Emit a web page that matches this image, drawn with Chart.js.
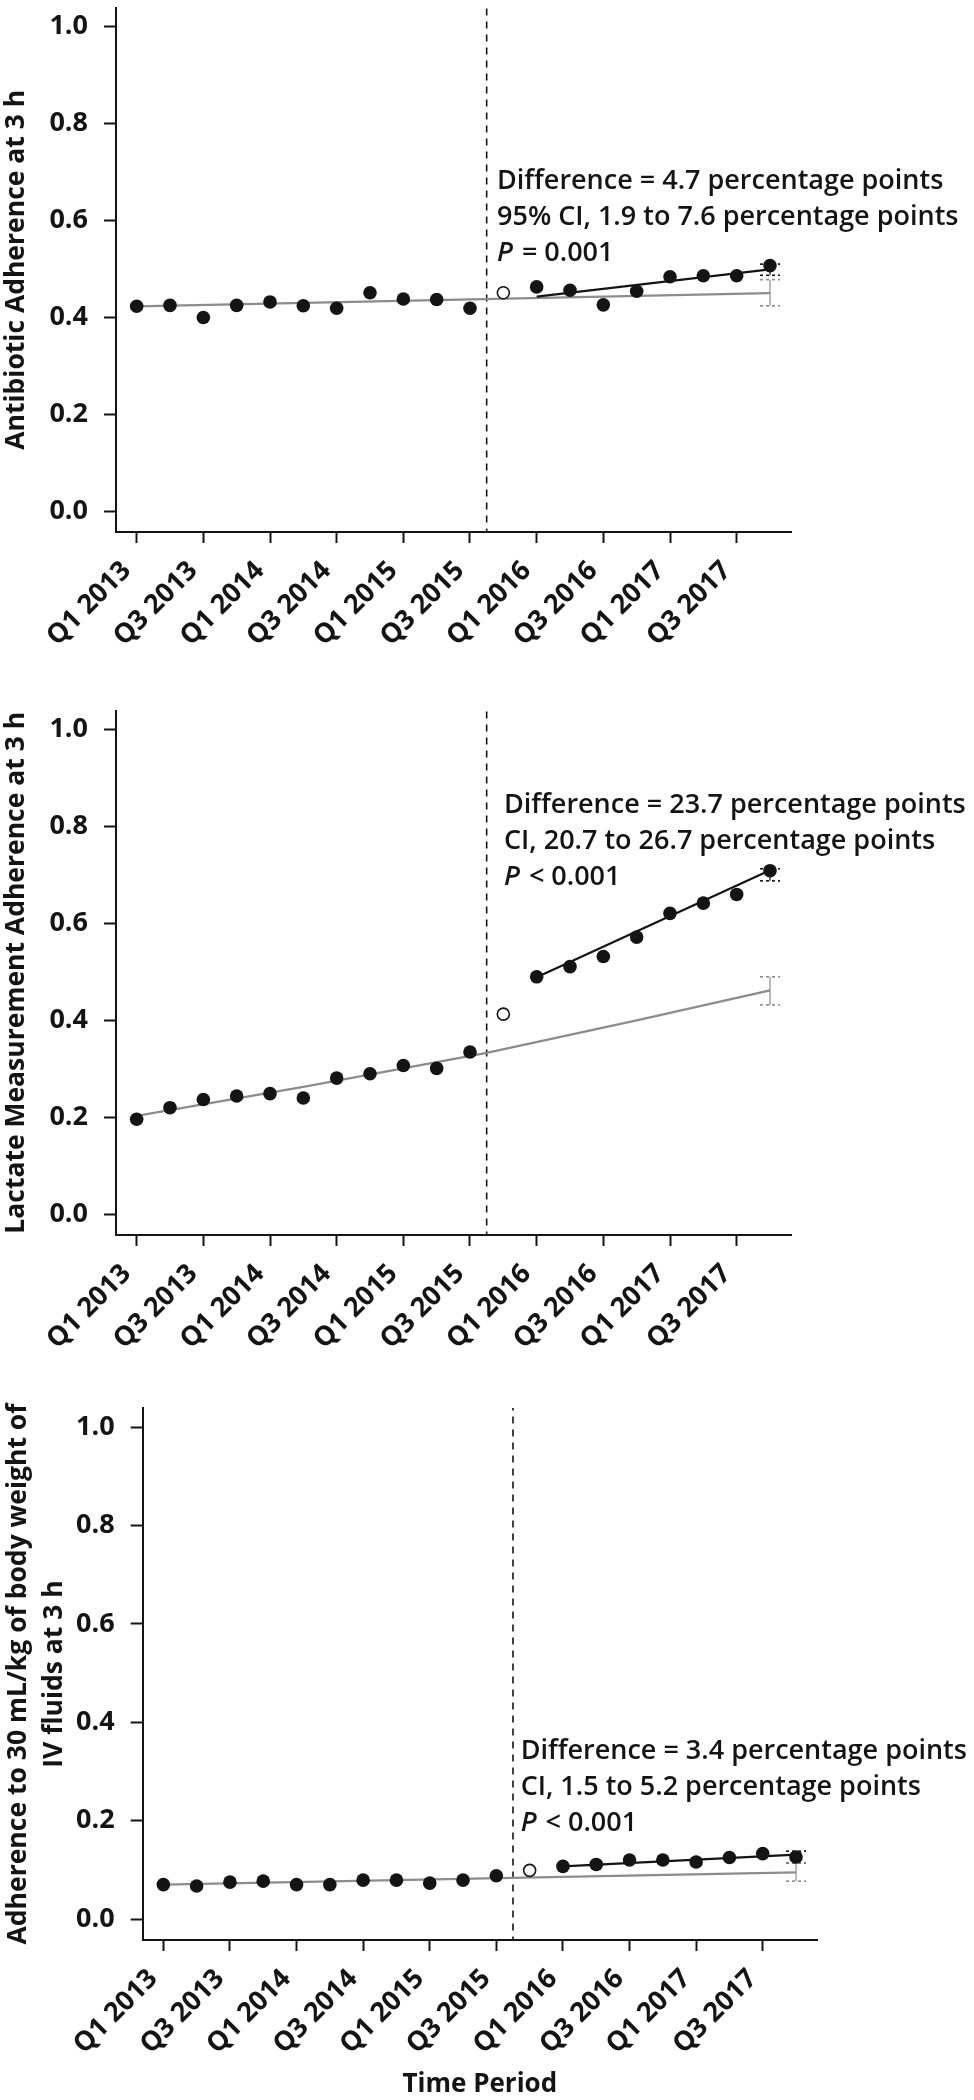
<!DOCTYPE html>
<html><head><meta charset="utf-8">
<script src="https://cdn.jsdelivr.net/npm/chart.js@4.4.1/dist/chart.umd.min.js"></script>
<style>
html,body{margin:0;padding:0;background:#fff;}
#wrap{position:relative;width:974px;height:2100px;background:#fff;overflow:hidden;}
.panel{position:absolute;left:0;width:974px;}
canvas{display:block;}
</style></head><body>
<div id="wrap">
<div class="panel" style="top:0;height:703px"><canvas id="c1" width="974" height="703"></canvas></div>
<div class="panel" style="top:703px;height:705px"><canvas id="c2" width="974" height="705"></canvas></div>
<div class="panel" style="top:1380px;height:720px"><canvas id="c3" width="974" height="720"></canvas></div>
</div>
<script>
// ---------- shared categories / ticks ----------
const quarters = ['Q1 2013','Q2 2013','Q3 2013','Q4 2013','Q1 2014','Q2 2014','Q3 2014','Q4 2014',
  'Q1 2015','Q2 2015','Q3 2015','Q4 2015','Q1 2016','Q2 2016','Q3 2016','Q4 2016',
  'Q1 2017','Q2 2017','Q3 2017','Q4 2017'];
const xTickIndex = [0,2,4,6,8,10,12,14,16,18];
const yTickValues = [0,0.2,0.4,0.6,0.8,1.0];
const yTickLabels = ['0.0','0.2','0.4','0.6','0.8','1.0'];
const preIndex = [0,1,2,3,4,5,6,7,8,9,10];
const transitionIndex = 11;
const postIndex = [12,13,14,15,16,17,18,19];
const interventionAt = 10.5;
const lastIndex = 19;

// ---------- Panel 1: antibiotic ----------
const abxPre = [0.423,0.425,0.400,0.425,0.432,0.424,0.419,0.451,0.438,0.437,0.419];
const abxTransition = 0.451;
const abxPost = [0.463,0.456,0.426,0.454,0.484,0.486,0.486,0.507];
const abxExpectedX = [0,19];
const abxExpectedY = [0.423,0.450];
const abxFitX = [12,19];
const abxFitY = [0.443,0.499];
const abxFitCI = [0.487,0.510];
const abxExpectedCI = [0.424,0.478];
const abxTitle = 'Antibiotic Adherence at 3 h';
const abxNotes = ['Difference = 4.7 percentage points','95% CI, 1.9 to 7.6 percentage points'];
const abxP = '= 0.001';

// ---------- Panel 2: lactate ----------
const lacPre = [0.196,0.220,0.237,0.244,0.249,0.240,0.281,0.290,0.307,0.301,0.335];
const lacTransition = 0.413;
const lacPost = [0.490,0.511,0.532,0.572,0.621,0.642,0.660,0.709];
const lacExpectedX = [0,5,10.5,15,19];
const lacExpectedY = [0.203,0.263,0.333,0.400,0.462];
const lacFitX = [12,19];
const lacFitY = [0.489,0.710];
const lacFitCI = [0.688,0.713];
const lacExpectedCI = [0.432,0.490];
const lacTitle = 'Lactate Measurement Adherence at 3 h';
const lacNotes = ['Difference = 23.7 percentage points','CI, 20.7 to 26.7 percentage points'];
const lacP = '< 0.001';

// ---------- Panel 3: IV fluids ----------
const ivfPre = [0.070,0.067,0.075,0.077,0.070,0.070,0.079,0.079,0.073,0.079,0.088];
const ivfTransition = 0.099;
const ivfPost = [0.107,0.111,0.120,0.120,0.116,0.125,0.133,0.126];
const ivfExpectedX = [0,19];
const ivfExpectedY = [0.070,0.095];
const ivfFitX = [12,19];
const ivfFitY = [0.107,0.131];
const ivfFitCI = [0.114,0.138];
const ivfExpectedCI = [0.077,0.114];
const ivfTitle = ['Adherence to 30 mL/kg of body weight of','IV fluids at 3 h'];
const ivfNotes = ['Difference = 3.4 percentage points','CI, 1.5 to 5.2 percentage points'];
const ivfP = '< 0.001';
const xAxisTitle = 'Time Period';

// ---------- styles ----------
const INK = '#141414';
const GRAY = '#8c8c8c';
const FONT = '"Open Sans", "DejaVu Sans", sans-serif';
const CAP = 0.3;

function seg(x0,y0,x1,y1){ return [{x:x0,y:y0},{x:x1,y:y1}]; }
function lineDs(data,color,width,dash,order){
  return {data, showLine:true, borderColor:color, borderWidth:width, borderDash:dash||[],
    pointRadius:0, pointHoverRadius:0, fill:false, tension:0, order:order};
}

const notesPlugin = {
  id:'notes',
  afterDraw(chart){
    const o = chart.options.plugins.notes;
    if(!o) return;
    const ctx = chart.ctx;
    const x = chart.scales.x.getPixelForValue(o.atX);
    let y = chart.scales.y.getPixelForValue(o.atY);
    ctx.save();
    ctx.fillStyle = INK;
    ctx.textBaseline = 'middle';
    ctx.textAlign = 'left';
    ctx.font = '600 ' + o.size + 'px ' + FONT;
    o.lines.forEach(t => { ctx.fillText(t, x, y); y += o.gap; });
    ctx.font = 'italic 600 ' + o.size + 'px ' + FONT;
    ctx.fillText('P', x, y);
    const w = ctx.measureText('P ').width;
    ctx.font = '600 ' + o.size + 'px ' + FONT;
    ctx.fillText(o.p, x + w + 2, y);
    ctx.restore();
  }
};

function makePanel(id, cfg){
  const pre = preIndex.map((i,k)=>({x:i,y:cfg.pre[k]}));
  const post = postIndex.map((i,k)=>({x:i,y:cfg.post[k]}));
  const expected = cfg.expX.map((v,k)=>({x:v,y:cfg.expY[k]}));
  const fit = cfg.fitX.map((v,k)=>({x:v,y:cfg.fitY[k]}));
  const datasets = [
    {data:pre.concat(post), showLine:false, pointRadius:6.8, pointHoverRadius:6.8,
     backgroundColor:INK, borderWidth:0, order:0},
    {data:[{x:transitionIndex,y:cfg.trans}], showLine:false, pointRadius:6, pointHoverRadius:6,
     backgroundColor:'#fff', borderColor:INK, borderWidth:1.6, order:0},
    lineDs(fit, INK, 2.2, [], 2),
    lineDs(expected, GRAY, 2.2, [], 3),
    lineDs(seg(interventionAt,-0.05,interventionAt,1.05), INK, 1.6, [7,6], 4),
    lineDs(seg(lastIndex,cfg.expCI[0],lastIndex,cfg.expCI[1]), GRAY, 1.2, [], 5),
    lineDs(seg(lastIndex-CAP,cfg.expCI[0],lastIndex+CAP,cfg.expCI[0]), GRAY, 1.6, [3,3], 5),
    lineDs(seg(lastIndex-CAP,cfg.expCI[1],lastIndex+CAP,cfg.expCI[1]), GRAY, 1.6, [3,3], 5),
    lineDs(seg(lastIndex,cfg.fitCI[0],lastIndex,cfg.fitCI[1]), INK, 1.2, [], 5),
    lineDs(seg(lastIndex-CAP,cfg.fitCI[0],lastIndex+CAP,cfg.fitCI[0]), INK, 1.6, [3,3], 5),
    lineDs(seg(lastIndex-CAP,cfg.fitCI[1],lastIndex+CAP,cfg.fitCI[1]), INK, 1.6, [3,3], 5)
  ];
  return new Chart(document.getElementById(id), {
    type:'scatter',
    data:{datasets},
    plugins:[notesPlugin],
    options:{
      responsive:false, animation:false, devicePixelRatio:1,
      layout:{padding:{left:0, top:cfg.padTop||0, bottom:0, right:cfg.padRight}},
      plugins:{legend:{display:false}, tooltip:{enabled:false},
        notes:{atX:cfg.noteX, atY:cfg.noteY, gap:36, size:27, lines:cfg.notes, p:cfg.p}},
      scales:{
        x:{type:'linear', min:-0.62, max:19.63,
          afterBuildTicks:s=>{ s.ticks = xTickIndex.map(v=>({value:v})); },
          afterFit:s=>{ s.height = cfg.xHeight; s.paddingLeft = 0; s.paddingRight = 0; },
          ticks:{autoSkip:false, minRotation:45, maxRotation:45, padding:12, labelOffset:-10,
            color:INK, font:{family:FONT, size:27, weight:'700'},
            callback:v=>quarters[v]},
          grid:{drawOnChartArea:false, drawTicks:true, tickLength:11, tickWidth:2, tickColor:INK},
          border:{display:true, color:INK, width:2},
          title:{display:!!cfg.xTitle, text:cfg.xTitle||'', color:INK,
            font:{family:FONT, size:26, weight:'700'}, padding:{top:0,bottom:0}}
        },
        y:{type:'linear', min:-0.0427, max:1.0393,
          afterBuildTicks:s=>{ s.ticks = yTickValues.map(v=>({value:v})); },
          afterFit:s=>{ s.width = cfg.yWidth; s.paddingTop = 0; s.paddingBottom = 0; },
          ticks:{padding:16, color:INK, font:{family:FONT, size:27, weight:'700'},
            callback:(v,i)=>yTickLabels[i]},
          grid:{drawOnChartArea:false, drawTicks:true, tickLength:12, tickWidth:2, tickColor:INK},
          border:{display:true, color:INK, width:2},
          title:{display:true, text:cfg.title, color:INK,
            font:{family:FONT, size:26.5, weight:'700', lineHeight:cfg.titleLH||1.2},
            padding:{top:cfg.titlePad||0, bottom:0}}
        }
      }
    }
  });
}

makePanel('c1', {pre:abxPre, trans:abxTransition, post:abxPost, expX:abxExpectedX, expY:abxExpectedY,
  fitX:abxFitX, fitY:abxFitY, fitCI:abxFitCI, expCI:abxExpectedCI, title:abxTitle, titlePad:1,
  notes:abxNotes, p:abxP, noteX:10.81, noteY:0.681, padRight:183, yWidth:116, xHeight:171});
makePanel('c2', {pre:lacPre, trans:lacTransition, post:lacPost, expX:lacExpectedX, expY:lacExpectedY,
  fitX:lacFitX, fitY:lacFitY, fitCI:lacFitCI, expCI:lacExpectedCI, title:lacTitle, titlePad:1,
  notes:lacNotes, p:lacP, noteX:11.02, noteY:0.844, padRight:183, yWidth:116, xHeight:173});
makePanel('c3', {pre:ivfPre, trans:ivfTransition, post:ivfPost, expX:ivfExpectedX, expY:ivfExpectedY,
  fitX:ivfFitX, fitY:ivfFitY, fitCI:ivfFitCI, expCI:ivfExpectedCI, title:ivfTitle, titleLH:1.36, titlePad:0,
  notes:ivfNotes, p:ivfP, noteX:10.73, noteY:0.341, padTop:28, padRight:157, yWidth:142.7, xHeight:160, xTitle:xAxisTitle});
</script>
</body></html>
